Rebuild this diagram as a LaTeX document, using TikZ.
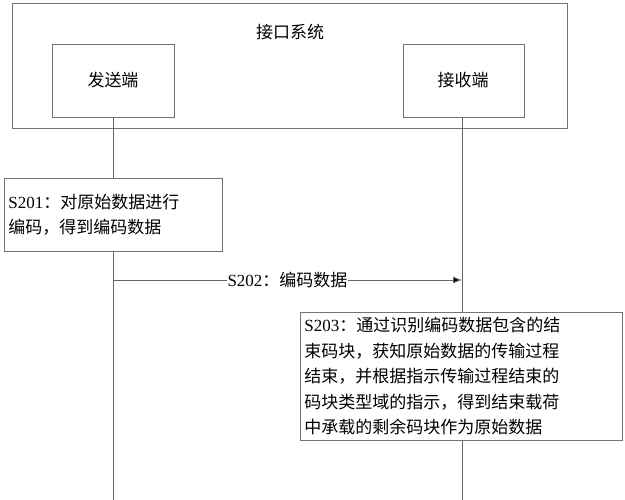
\documentclass[tikz,border=0pt]{standalone}
\usepackage{fontspec}
\usetikzlibrary{arrows.meta}
\setmainfont{Liberation Serif}
\newfontfamily\cjk{Noto Sans CJK SC}
\begin{document}
\begin{tikzpicture}[x=1pt,y=-1pt,
  box/.style={draw=black!55,line width=0.8pt},
  ln/.style={draw=black!60,line width=0.8pt},
  txt/.style={font=\fontsize{17}{25.5}\selectfont\cjk,inner sep=0pt}]
\useasboundingbox (0,0) rectangle (625,500);
\draw[box] (12,3) rectangle (567,128);
\node[txt] (title) at (290,32) {接口系统};
\draw[box] (52,44) rectangle (174,117);
\node[txt] (snd) at (113,80) {发送端};
\draw[box] (403,44) rectangle (524,117);
\node[txt] (rcv) at (463,80) {接收端};
\coordinate (l1) at (113,117); \coordinate (l2) at (113,500);
\coordinate (r1) at (462,117); \coordinate (r2) at (462,500);
\draw[ln] (l1) -- (l2);
\draw[ln] (r1) -- (r2);
\node[box,fill=white,txt,align=left,text width=210,minimum height=73,anchor=north west,inner xsep=4pt] (s201) at (4,178) {{\rmfamily S201}：对原始数据进行\\编码，得到编码数据};
\coordinate (a1) at (113,280); \coordinate (a2) at (462,280);
\draw[ln,-{Latex[length=9pt,width=7pt,fill=black]}] (a1) -- node[fill=white,txt,inner xsep=1pt] (lab) {{\rmfamily S202}：编码数据} (a2);
\node[box,fill=white,txt,align=left,text width=314,minimum height=128,anchor=north west,inner xsep=4pt] (s203) at (300,312) {{\rmfamily S203}：通过识别编码数据包含的结\\束码块，获知原始数据的传输过程\\结束，并根据指示传输过程结束的\\码块类型域的指示，得到结束载荷\\中承载的剩余码块作为原始数据};
\end{tikzpicture}
\end{document}
